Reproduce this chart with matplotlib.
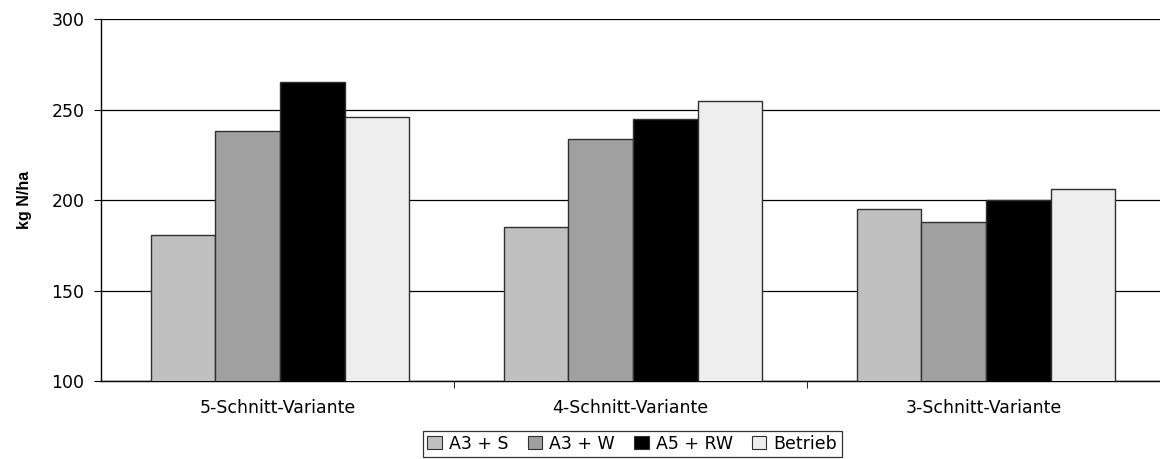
import numpy as np
import matplotlib.pyplot as plt
from matplotlib.patches import Patch

plt.rcParams['font.family'] = ['DejaVu Sans']

# N-Entzug je Schnittvariante
categories = ['5-Schnitt-Variante', '4-Schnitt-Variante', '3-Schnitt-Variante']
series = ['A3 + S', 'A3 + W', 'A5 + RW', 'Betrieb']
values = {
    'A3 + S':  [181, 185, 195],
    'A3 + W':  [238, 234, 188],
    'A5 + RW': [265, 245, 200],
    'Betrieb': [246, 255, 206],
}
colors = ['#c0c0c0', '#a0a0a0', '#000000', '#eeeeee']

fig = plt.figure(figsize=(11.6, 4.59), dpi=100)
ax = fig.add_axes([0.0871, 0.169, 0.9129, 0.7896])

x = np.arange(len(categories)) + 0.5
w = 0.183
for i, (name, col) in enumerate(zip(series, colors)):
    ax.bar(x + (i - 1.5) * w + 0.007, values[name], width=w, bottom=0,
           color=col, edgecolor='#303030', linewidth=1.0, zorder=3)

ax.set_xlim(0, 3)
ax.set_ylim(100, 300)
ax.set_yticks([100, 150, 200, 250, 300])
ax.yaxis.grid(True, color='black', linewidth=0.9, zorder=0)
ax.set_axisbelow(True)

ax.set_xticks(x)
ax.set_xticklabels(categories, fontsize=12.5)
ax.set_xticks([1, 2], minor=True)
ax.tick_params(axis='x', which='major', length=0, pad=13)
ax.tick_params(axis='x', which='minor', length=5, direction='out', color='black')
ax.tick_params(axis='y', length=5, direction='out', labelsize=12.5, pad=7)

for s in ['top', 'right']:
    ax.spines[s].set_visible(False)
for s in ['left', 'bottom']:
    ax.spines[s].set_linewidth(1.0)

ax.set_ylabel('kg N/ha', fontsize=11.5, fontweight='bold', labelpad=14,
              family='Liberation Sans')

handles = [Patch(facecolor=c, edgecolor='#303030', linewidth=0.8) for c in colors]
leg = fig.legend(handles, series, loc='center', bbox_to_anchor=(0.545, 0.033),
                 ncol=4, fontsize=12.5, frameon=True, fancybox=False,
                 handlelength=0.85, handleheight=0.8, handletextpad=0.4,
                 columnspacing=1.1, borderpad=0.25, borderaxespad=0)
leg.get_frame().set_edgecolor('black')
leg.get_frame().set_linewidth(0.9)

plt.savefig('out.png', dpi=100)
